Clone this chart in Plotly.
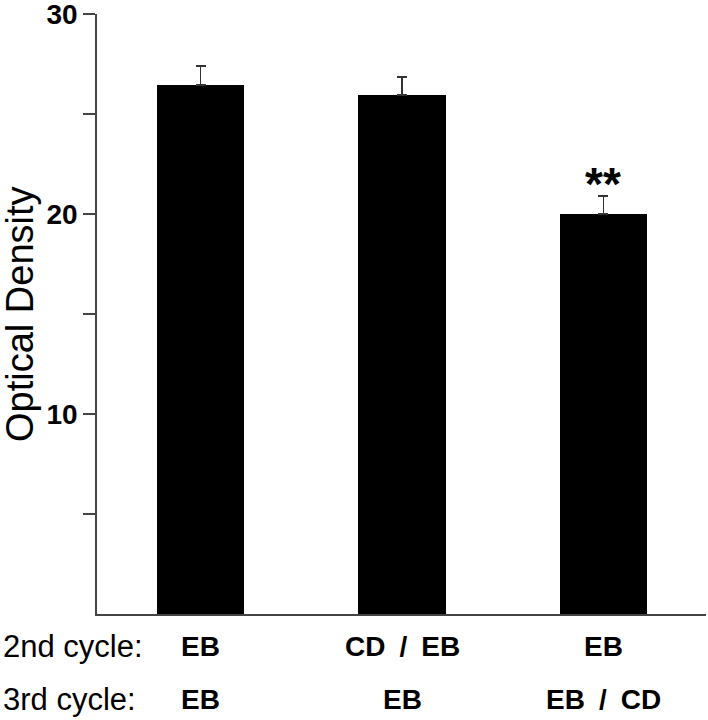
import plotly.graph_objects as go

second_cycle = ["EB", "CD / EB", "EB"]
third_cycle = ["EB", "EB", "EB / CD"]
values = [26.45, 25.95, 20.0]
errors = [0.95, 0.9, 0.9]
significance = ["", "", "**"]
tick_vals = [5, 10, 15, 20, 25, 30]
tick_text = ["", "10", "", "20", "", "30"]
row_headers = ["2nd cycle:", "3rd cycle:"]
y_title = "Optical Density"

FONT = "Liberation Sans, Arial, sans-serif"
xs = list(range(len(values)))

fig = go.Figure()
fig.add_trace(go.Bar(
    x=xs, y=values, width=0.432,
    marker=dict(color="black", line=dict(width=0)),
    error_y=dict(type="data", array=errors, arrayminus=[0] * len(errors),
                 symmetric=False, color="#333333", thickness=1.3, width=5),
    showlegend=False,
))

annotations = []
for i, s in enumerate(significance):
    if s:
        annotations.append(dict(x=xs[i], y=values[i] + errors[i], xref="x", yref="y",
                                text="<b>" + s + "</b>", showarrow=False, yanchor="bottom",
                                yshift=-16, font=dict(family=FONT, size=46, color="black")))

rows = [second_cycle, third_cycle]
row_shift = [-32, -85]
for r, labels in enumerate(rows):
    annotations.append(dict(x=0, y=0, xref="paper", yref="paper", text=row_headers[r],
                            showarrow=False, xanchor="left", yanchor="middle",
                            xshift=-96, yshift=row_shift[r],
                            font=dict(family=FONT, size=31, color="black")))
    for i, lab in enumerate(labels):
        shown = lab.replace(" ", "\u2002")
        annotations.append(dict(x=xs[i], y=0, xref="x", yref="paper", text="<b>" + shown + "</b>",
                                showarrow=False, xanchor="center", yanchor="middle",
                                yshift=row_shift[r],
                                font=dict(family=FONT, size=28, color="black")))

annotations.append(dict(x=0, y=0.5, xref="paper", yref="paper", text=y_title,
                        showarrow=False, textangle=-90, xanchor="center", yanchor="middle",
                        xshift=-77, font=dict(family=FONT, size=38, color="black")))

fig.update_layout(
    width=708, height=720,
    margin=dict(l=97, r=2, t=14, b=106, autoexpand=False),
    paper_bgcolor="white", plot_bgcolor="white",
    bargap=0,
    annotations=annotations,
    xaxis=dict(range=[-0.514, 2.509], showticklabels=False, ticks="", showgrid=False,
               zeroline=False, showline=True, linecolor="#444444", linewidth=1.5,
               automargin=False),
    yaxis=dict(range=[0, 30], tickvals=tick_vals, ticktext=tick_text, ticks="outside",
               ticklen=12, tickwidth=1.5, tickcolor="#444444", showgrid=False,
               zeroline=False, showline=True, linecolor="#444444", linewidth=1.5,
               automargin=False, ticklabeloverflow="allow",
               tickfont=dict(family=FONT, size=28, color="black", weight="bold")),
)

fig.write_html("out.html", config={"displayModeBar": False},
               post_script="document.body.style.margin='0';document.body.style.overflow='hidden';")
